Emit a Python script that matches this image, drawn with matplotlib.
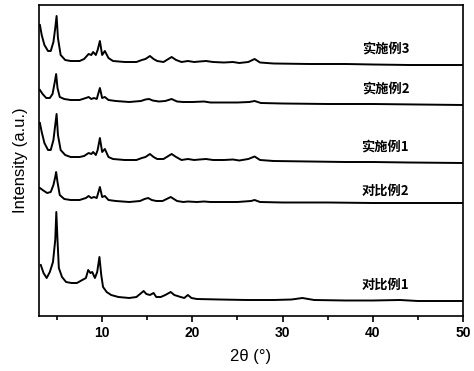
import numpy as np
import matplotlib
matplotlib.use("Agg")
from matplotlib import pyplot as plt
from matplotlib.ticker import MultipleLocator

# XRD patterns (2theta, stacked intensity in a.u.)
tt_db1 = [3.2, 3.5, 3.85, 4.2, 4.55, 4.8, 4.92, 5.05, 5.2, 5.55, 6.0, 6.6, 7.2, 7.8, 8.2, 8.45, 8.7, 8.9,
          9.2, 9.45, 9.7, 9.9, 10.1, 10.5, 11.0, 11.8, 13.0, 13.8, 14.2, 14.6, 14.9, 15.3, 15.7, 16.0,
          16.5, 17.0, 17.6, 18.0, 18.7, 19.1, 19.5, 19.9, 20.5, 23, 26, 29, 31, 32.2, 33.5, 37, 40, 43, 45, 50]
i_db1 = [51, 43, 38, 44, 54, 76, 104, 76, 48, 39, 34, 33, 33, 36, 38, 46, 43, 44,
         38, 44, 59, 41, 29, 24, 21, 19, 18, 19, 22, 25, 22, 21, 23, 19,
         19, 21, 24, 21, 19, 18, 21, 18, 17, 16.5, 16, 16, 16.5, 18, 16, 15.5, 15.5, 16, 15, 15]

tt_db2 = [3.1, 3.4, 3.9, 4.3, 4.6, 4.8, 4.9, 5.05, 5.3, 5.8, 6.5, 7.5, 8.2, 8.5, 8.8, 9.1, 9.4, 9.75,
          10.0, 10.3, 10.7, 11.5, 13, 14.2, 14.7, 15.1, 15.5, 16, 16.7, 17.6, 18.3, 19, 19.5, 20.5,
          21.3, 22, 25, 26.5, 26.9, 27.5, 30, 35, 40, 45, 50]
i_db2 = [128, 126, 123, 124, 131, 139, 144, 134, 121, 117, 116, 116, 118, 120, 118, 119, 118, 129,
         119, 120, 116, 115, 114, 115, 117, 118, 116, 115, 115, 119, 115, 114, 114.5, 114,
         114.5, 114, 114, 115, 116, 114, 113.5, 113.5, 113, 113, 113]

tt_ex = [3.1, 3.3, 3.6, 4.0, 4.3, 4.6, 4.8, 4.95, 5.1, 5.4, 5.9, 6.5, 7.5, 8.0, 8.5, 8.8, 9.0, 9.3, 9.5,
         9.75, 10.0, 10.3, 10.7, 11.2, 12.5, 13.8, 14.4, 14.8, 15.3, 15.7, 16.1, 16.8, 17.7, 18.2,
         18.8, 19.5, 20.2, 20.8, 21.5, 22.3, 23.5, 24.5, 25.2, 26.2, 26.9, 27.5, 29, 33, 37, 40, 44, 50]
i_ex1 = [193, 184, 173, 166, 166, 176, 191, 202, 181, 166, 161, 159, 159, 160, 163, 162, 164, 161, 166,
         178, 164, 167, 159, 157, 156, 156, 158, 159, 162, 159, 157, 157, 162, 159,
         156, 157, 156, 156.5, 157, 156, 156, 156.5, 155.5, 157, 159.5, 156, 155, 154.5, 154, 154, 153.5, 153]
i_ex3 = [291, 281, 271, 265, 265, 274, 288, 300, 278, 261, 256, 255, 255, 257, 262, 261, 264, 261, 266,
         275, 261, 265, 258, 255, 254, 254, 256, 257, 260, 257, 255, 254, 259, 256,
         254, 255, 254, 254.5, 255, 254, 253.5, 254, 253, 254, 257, 253.5, 252.5, 252, 252, 251.5, 251, 251]

tt_ex2 = [3.1, 3.4, 3.8, 4.2, 4.5, 4.75, 4.9, 5.05, 5.3, 5.8, 6.5, 7.5, 8.2, 8.5, 8.8, 9.1, 9.4, 9.75,
          10.0, 10.3, 10.7, 11.5, 13, 14.3, 14.8, 15.2, 15.6, 16.3, 17, 17.7, 18.3, 19, 20, 21.3,
          22, 25, 26.3, 26.9, 27.6, 30, 35, 40, 45, 50]
i_ex2 = [226, 222, 218, 218, 222, 234, 242, 228, 219, 217, 216, 216, 218, 219, 217, 218, 217, 228,
         218, 219, 216, 215, 214, 215, 216.5, 217, 215.5, 214.5, 215, 217, 214.5, 214, 214, 214.5,
         213.5, 213.5, 214, 215, 213, 212.5, 212, 212, 211.5, 211]

labels = ['实施例3', '实施例2', '实施例1', '对比例2', '对比例1']
label_y = [267, 227, 169, 125, 31]

fig, ax = plt.subplots(figsize=(4.74, 3.71), dpi=100)
fig.subplots_adjust(left=39/474, right=463/474, top=1-5/371, bottom=1-316/371)

for tt, ii in [(tt_db1, i_db1), (tt_db2, i_db2), (tt_ex, i_ex1), (tt_ex2, i_ex2), (tt_ex, i_ex3)]:
    ax.plot(tt, ii, color='black', lw=1.4)

for lab, y in zip(labels, label_y):
    ax.text(41.4, y, lab, ha='center', va='center', fontsize=9.5, fontweight='bold',
            family=['Noto Sans CJK SC', 'DejaVu Sans'])

ax.set_xlim(3, 50)
ax.set_ylim(0, 311)
ax.xaxis.set_major_locator(MultipleLocator(10))
ax.xaxis.set_minor_locator(MultipleLocator(5))
ax.tick_params(axis='x', which='major', direction='out', length=4, width=1.2)
ax.tick_params(axis='x', which='minor', direction='out', length=3, width=1.2)
ax.set_yticks([])
for lbl in ax.get_xticklabels():
    lbl.set_fontweight('bold')
    lbl.set_fontfamily('Liberation Sans')
    lbl.set_fontsize(10)
for s in ax.spines.values():
    s.set_linewidth(1.2)

ax.set_xlabel('2θ (°)', fontsize=12, family='Liberation Sans', labelpad=6)
ax.set_ylabel('Intensity (a.u.)', fontsize=12, family='Liberation Sans', labelpad=8)

fig.savefig('out.png', dpi=100)
